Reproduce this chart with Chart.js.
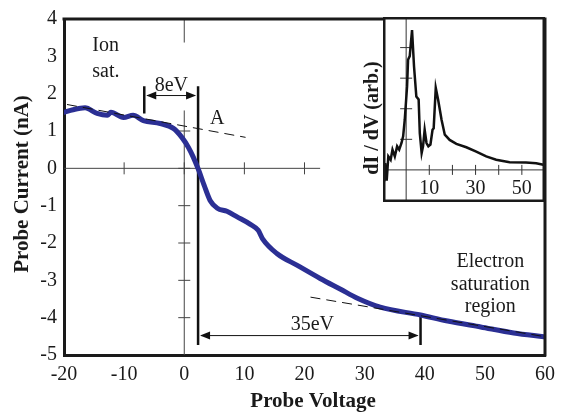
<!DOCTYPE html>
<html>
<head>
<meta charset="utf-8">
<script src="https://cdn.jsdelivr.net/npm/chart.js@4.4.1/dist/chart.umd.min.js"></script>
<style>
body { margin: 0; background: #fff; }
#wrap { position: relative; width: 564px; height: 413px; }
#inset { position: absolute; left: 383px; top: 17px; width: 162px; height: 185px; background: #fff; }
</style>
</head>
<body>
<div id="wrap">
  <canvas id="main" width="564" height="413"></canvas>
  <div id="inset"><canvas id="insetChart" width="162" height="185"></canvas></div>
</div>
<script>
// Probe I-V curve
const voltage = [-20, -18.5, -16.5, -14.5, -12.8, -12.2, -10.1, -8.5, -6.8, -4.0, -1.8, -0.4, 0.7, 1.5, 2.4, 3.3, 4.3, 5.5, 7.1, 8.8, 11.0, 12.3, 13.0, 15.4, 18.8, 22.6, 26.0, 28.8, 32.6, 39.3, 43.8, 49.3, 54.8, 59.8];
const current = [1.50, 1.57, 1.62, 1.47, 1.42, 1.50, 1.36, 1.42, 1.28, 1.20, 1.07, 0.83, 0.56, 0.30, -0.05, -0.45, -0.86, -1.07, -1.15, -1.30, -1.50, -1.66, -1.88, -2.28, -2.60, -2.95, -3.24, -3.48, -3.72, -3.93, -4.09, -4.25, -4.41, -4.51];

// fit lines (dashed)
const ionFitV = [-19.5, 10.2];
const ionFitI = [1.71, 0.83];
const elecFitV = [21, 60];
const elecFitI = [-3.45, -4.51];

// marker bars
const barAV = [2.3, 2.3];
const barAI = [2.2, -4.73];
const barIonV = [-6.65, -6.65];
const barIonI = [2.2, 1.47];
const barElecV = [39.3, 39.3];
const barElecI = [-3.93, -4.73];

// arrows: [from V, to V, at I]
const arrow8eV = [-6.65, 2.3, 1.95];
const arrow35eV = [2.3, 39.3, -4.48];

// ticks on the crossing axes
const crossXTicks = [-10, 10, 20];
const crossYTicks = [-4, -3, -2, -1, 1];

// inset dI/dV
const insetV = [-9.5, -9.1, -8.4, -7.7, -6.7, -5.9, -4.9, -3.9, -3.0, -2.0, -1.3, -0.6, 0.4, 0.83, 1.55, 2.55, 3.4, 4.4, 5.4, 5.9, 6.7, 7.3, 8.0, 8.8, 9.6, 10.5, 11.4, 11.9, 12.8, 13.8, 15.3, 16.7, 18.8, 21.7, 26, 30.3, 34.6, 38.9, 44.7, 51.8, 56.2, 59.8];
const insetD = [-0.38, 0.22, -0.35, 0.44, 0.33, 0.66, 0.44, 0.77, 0.66, 0.88, 1.1, 1.64, 2.73, 3.6, 3.72, 4.57, 3.39, 2.4, 2.3, 1.2, 0.55, 0.77, 1.31, 0.88, 0.77, 0.83, 1.31, 1.36, 2.68, 2.3, 1.64, 1.15, 0.98, 0.85, 0.74, 0.6, 0.44, 0.33, 0.25, 0.24, 0.22, 0.16];
const insetXTicks = [10, 20, 30, 40, 50];
const insetXLabels = [10, 30, 50];
const insetYTicks = [1, 2, 3, 4];

// text labels in data coords
const labels = [
    { text: 'Ion', x: -15.3, y: 3.29, align: 'left' },
    { text: 'sat.', x: -15.3, y: 2.6, align: 'left' },
    { text: '8eV', x: -2.15, y: 2.22, align: 'center' },
    { text: 'A', x: 5.5, y: 1.34, align: 'center' },
    { text: '35eV', x: 21.3, y: -4.2, align: 'center' },
    { text: 'Electron', x: 50.9, y: -2.49, align: 'center' },
    { text: 'saturation', x: 50.9, y: -3.12, align: 'center' },
    { text: 'region', x: 50.9, y: -3.72, align: 'center' }
];

const SERIF = '"Liberation Serif", "DejaVu Serif", serif';
const zip = (xs, ys) => xs.map((x, i) => ({ x: x, y: ys[i] }));

function drawArrow(ctx, xs, ya, xb) {
    // line with heads at both ends
    const [x1, x2] = [Math.min(xs, xb), Math.max(xs, xb)];
    ctx.beginPath();
    ctx.moveTo(x1 + 3, ya);
    ctx.lineTo(x2 - 3, ya);
    ctx.stroke();
    [[x1 + 2, 1], [x2 - 2, -1]].forEach(([tip, dir]) => {
        ctx.beginPath();
        ctx.moveTo(tip, ya);
        ctx.lineTo(tip + dir * 10, ya - 4);
        ctx.lineTo(tip + dir * 10, ya + 4);
        ctx.closePath();
        ctx.fill();
    });
}

const mainExtras = {
    id: 'mainExtras',
    beforeDatasetsDraw(chart) {
        const { ctx, scales: { x, y }, chartArea: a } = chart;
        ctx.save();
        ctx.strokeStyle = '#444';
        ctx.lineWidth = 1;
        // horizontal zero line
        ctx.beginPath();
        ctx.moveTo(a.left, y.getPixelForValue(0));
        ctx.lineTo(x.getPixelForValue(22.6), y.getPixelForValue(0));
        // vertical zero line (top stub + lower part)
        const x0 = x.getPixelForValue(0);
        ctx.moveTo(x0, a.top);
        ctx.lineTo(x0, y.getPixelForValue(3.37));
        ctx.moveTo(x0, y.getPixelForValue(1.55));
        ctx.lineTo(x0, a.bottom);
        crossXTicks.forEach(v => {
            const px = x.getPixelForValue(v);
            ctx.moveTo(px, y.getPixelForValue(0) - 6);
            ctx.lineTo(px, y.getPixelForValue(0) + 6);
        });
        crossYTicks.concat([0]).forEach(v => {
            const py = y.getPixelForValue(v);
            ctx.moveTo(x0 - 6, py);
            ctx.lineTo(x0 + 6, py);
        });
        ctx.moveTo(x0, y.getPixelForValue(0) - 6);
        ctx.lineTo(x0, y.getPixelForValue(0) + 6);
        ctx.stroke();
        ctx.restore();
    },
    afterDatasetsDraw(chart) {
        const { ctx, scales: { x, y }, chartArea: a } = chart;
        ctx.save();
        // arrows
        ctx.strokeStyle = '#111';
        ctx.fillStyle = '#111';
        ctx.lineWidth = 1;
        [arrow8eV, arrow35eV].forEach(([v1, v2, i]) => {
            drawArrow(ctx, x.getPixelForValue(v1), y.getPixelForValue(i), x.getPixelForValue(v2));
        });
        // text labels
        ctx.font = '20px ' + SERIF;
        ctx.fillStyle = '#1a1a1a';
        ctx.textBaseline = 'middle';
        labels.forEach(l => {
            ctx.textAlign = l.align;
            ctx.fillText(l.text, x.getPixelForValue(l.x), y.getPixelForValue(l.y));
        });
        // top and right frame
        ctx.strokeStyle = '#1a1a1a';
        ctx.lineWidth = 3;
        ctx.beginPath();
        ctx.moveTo(a.left - 1.5, a.top);
        ctx.lineTo(a.right, a.top);
        ctx.lineTo(a.right, a.bottom + 1.5);
        ctx.stroke();
        // axis titles
        ctx.font = 'bold 21px ' + SERIF;
        ctx.textAlign = 'center';
        ctx.textBaseline = 'alphabetic';
        ctx.fillText('Probe Voltage', 313, 407);
        ctx.save();
        ctx.translate(28, 184);
        ctx.rotate(-Math.PI / 2);
        ctx.fillText('Probe Current (nA)', 0, 0);
        ctx.restore();
        // inset y title
        ctx.font = 'bold 20px ' + SERIF;
        ctx.save();
        ctx.translate(378, 118);
        ctx.rotate(-Math.PI / 2);
        ctx.fillText('dI / dV (arb.)', 0, 0);
        ctx.restore();
        ctx.restore();
    }
};

new Chart(document.getElementById('main'), {
    type: 'scatter',
    data: {
        datasets: [
            { data: zip(ionFitV, ionFitI), showLine: true, borderColor: '#111', borderWidth: 1, borderDash: [10, 6], pointRadius: 0, order: 1 },
            { data: zip(elecFitV, elecFitI), showLine: true, borderColor: '#111', borderWidth: 1, borderDash: [10, 6], pointRadius: 0, order: 1 },
            { data: zip(barAV, barAI), showLine: true, borderColor: '#111', borderWidth: 2.5, pointRadius: 0, order: 3 },
            { data: zip(barIonV, barIonI), showLine: true, borderColor: '#111', borderWidth: 2.5, pointRadius: 0, order: 3 },
            { data: zip(barElecV, barElecI), showLine: true, borderColor: '#111', borderWidth: 2.5, pointRadius: 0, order: 3 },
            { data: zip(voltage, current), showLine: true, borderColor: '#2b2f94', borderWidth: 5, pointRadius: 0, cubicInterpolationMode: 'monotone', borderJoinStyle: 'round', borderCapStyle: 'round', order: 2 }
        ]
    },
    options: {
        responsive: false,
        animation: false,
        events: [],
        layout: { padding: { top: 17, right: 19, left: 0, bottom: 0 } },
        plugins: { legend: { display: false }, tooltip: { enabled: false } },
        scales: {
            x: {
                type: 'linear', min: -20, max: 60,
                afterFit: s => { s.height = 58; },
                grid: { display: false, drawTicks: false },
                border: { display: true, color: '#1a1a1a', width: 3 },
                ticks: { stepSize: 10, color: '#1a1a1a', padding: 8, font: { family: SERIF, size: 20 } }
            },
            y: {
                type: 'linear', min: -5, max: 4,
                afterFit: s => { s.width = 64; },
                grid: { display: false, drawTicks: false },
                border: { display: true, color: '#1a1a1a', width: 3 },
                ticks: { stepSize: 1, color: '#1a1a1a', padding: 7, font: { family: SERIF, size: 20 } }
            }
        }
    },
    plugins: [mainExtras]
});

const insetExtras = {
    id: 'insetExtras',
    beforeDatasetsDraw(chart) {
        const { ctx, scales: { x, y }, chartArea: a } = chart;
        ctx.save();
        ctx.strokeStyle = '#333';
        ctx.lineWidth = 1;
        const x0 = x.getPixelForValue(0);
        const y0 = y.getPixelForValue(0);
        ctx.beginPath();
        ctx.moveTo(x0, a.top);
        ctx.lineTo(x0, a.bottom);
        ctx.moveTo(a.left, y0);
        ctx.lineTo(a.right, y0);
        insetXTicks.forEach(v => {
            const px = x.getPixelForValue(v);
            ctx.moveTo(px, y0 - 5);
            ctx.lineTo(px, y0 + 5);
        });
        insetYTicks.forEach(v => {
            const py = y.getPixelForValue(v);
            ctx.moveTo(x0 - 6, py);
            ctx.lineTo(x0 + 6, py);
        });
        ctx.stroke();
        ctx.font = '20px ' + SERIF;
        ctx.fillStyle = '#1a1a1a';
        ctx.textAlign = 'center';
        ctx.textBaseline = 'middle';
        insetXLabels.forEach(v => {
            ctx.fillText(String(v), x.getPixelForValue(v), y0 + 19);
        });
        ctx.restore();
    },
    afterDatasetsDraw(chart) {
        const { ctx, width, height } = chart;
        ctx.save();
        ctx.strokeStyle = '#1a1a1a';
        ctx.lineWidth = 2.5;
        ctx.strokeRect(1.25, 1.25, width - 2.5, height - 2.5);
        ctx.restore();
    }
};

new Chart(document.getElementById('insetChart'), {
    type: 'scatter',
    data: {
        datasets: [
            { data: zip(insetV, insetD), showLine: true, borderColor: '#111', borderWidth: 2.5, pointRadius: 0, tension: 0 }
        ]
    },
    options: {
        responsive: false,
        animation: false,
        events: [],
        layout: { padding: 0 },
        plugins: { legend: { display: false }, tooltip: { enabled: false } },
        scales: {
            x: { type: 'linear', min: -10, max: 60, display: false },
            y: { type: 'linear', min: -1.05, max: 5, display: false }
        }
    },
    plugins: [insetExtras]
});
</script>
</body>
</html>
